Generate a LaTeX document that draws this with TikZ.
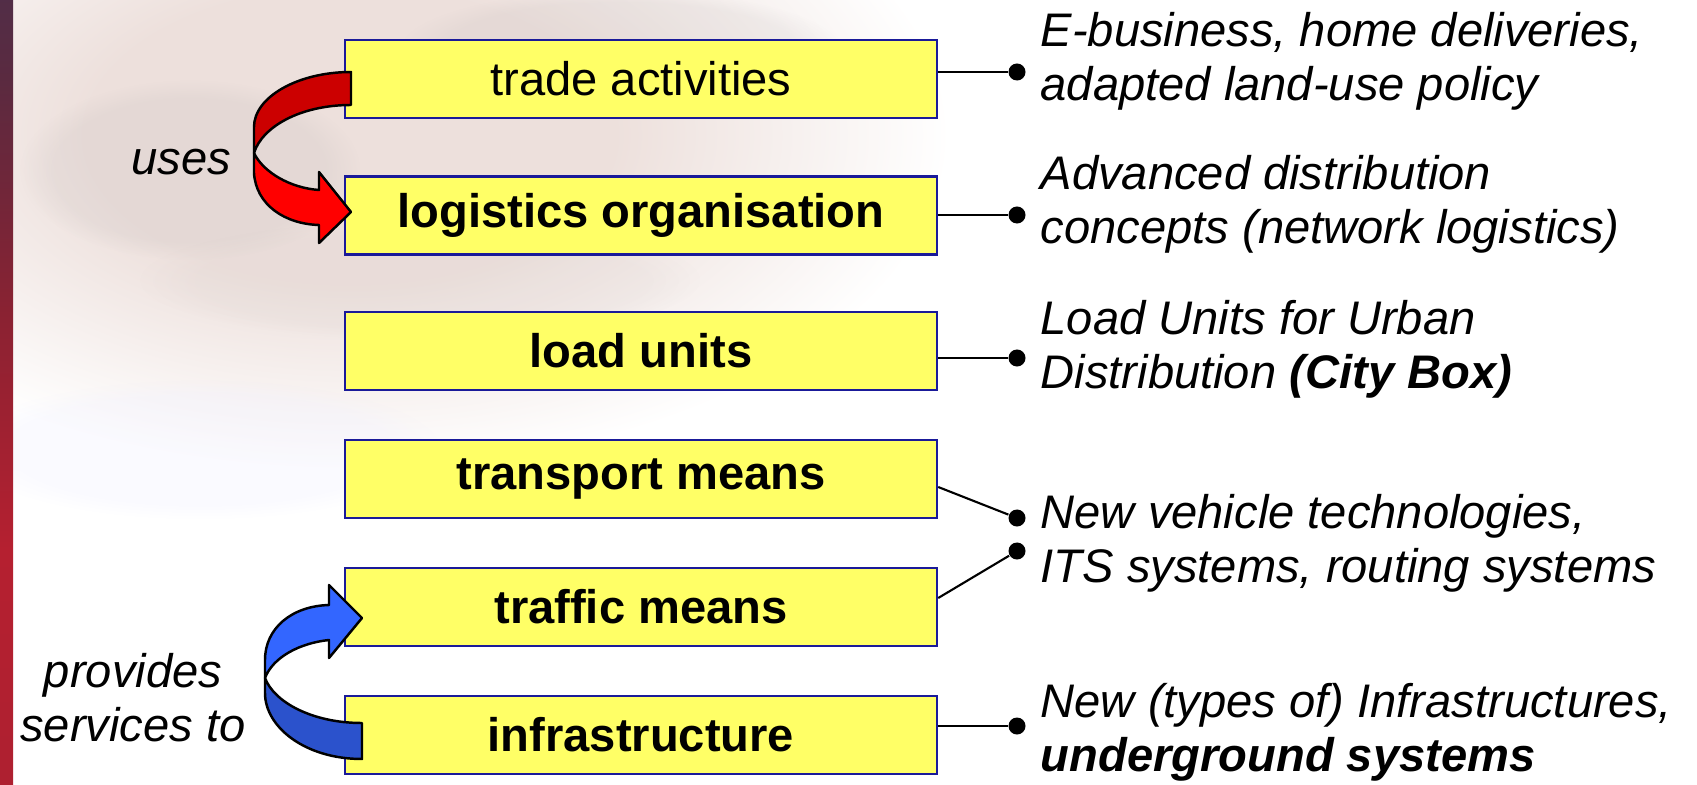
\documentclass[tikz,border=0pt]{standalone}
\usepackage{fontspec}
\setmainfont{Liberation Sans}
\usepackage{tikz}
\usetikzlibrary{fadings}
\definecolor{boxfill}{HTML}{FFFF66}
\definecolor{boxline}{HTML}{1A1A99}
\definecolor{redback}{HTML}{CC0000}
\definecolor{redfront}{HTML}{FF0000}
\definecolor{blueback}{HTML}{2B52CC}
\definecolor{bluefront}{HTML}{3366FF}
\definecolor{haze}{HTML}{EDE0DC}
\definecolor{smudge}{HTML}{B8B4B4}
\pgfdeclareradialshading{hazeshade}{\pgfpoint{0bp}{0bp}}{color(0bp)=(haze); color(11bp)=(haze); color(25bp)=(white); color(50bp)=(white)}
\pgfdeclareverticalshading{edgeshade}{100bp}{color(0bp)=(rgb,255:red,107;green,53;blue,64); color(12bp)=(rgb,255:red,168;green,32;blue,48); color(40bp)=(rgb,255:red,181;green,32;blue,48); color(55bp)=(rgb,255:red,138;green,34;blue,50); color(70bp)=(rgb,255:red,90;green,42;blue,64); color(88bp)=(rgb,255:red,62;green,54;blue,88); color(100bp)=(rgb,255:red,58;green,58;blue,96)}
\tikzset{
  box/.style={draw=boxline, fill=boxfill, line width=0.6pt, minimum width=5.92cm,
    minimum height=0.78cm, inner sep=0pt, font=\fontsize{13.4}{15}\selectfont},
  boldbox/.style={box, font=\fontsize{13.4}{15}\selectfont\bfseries},
  note/.style={anchor=west, align=left, inner sep=0pt, font=\fontsize{13.4}{15.4}\selectfont\itshape},
  bullet/.style={circle, fill=black, minimum size=0.17cm, inner sep=0pt},
  link/.style={line width=0.6pt},
  ribbon/.style={draw=black, line width=0.7pt, line join=round},
  blur/.style={opacity=#1, path fading=circle with fuzzy edge 20 percent}
}

\begin{document}
\begin{tikzpicture}[x=0.01cm, y=-0.01cm]
    \useasboundingbox (0,0) rectangle (1697,785);

    % Backdrop
    \begin{scope}
    \clip (0,0) rectangle (1697,785);
    \shade[shading=hazeshade] (-250,-200) rectangle (950,470);
    \fill[smudge, blur=.16] (190,170) ellipse [x radius=1.7cm, y radius=0.9cm];
    \fill[smudge, blur=.14] (620,50) ellipse [x radius=2.2cm, y radius=0.6cm];
    \fill[smudge!60!haze, blur=.12] (420,280) ellipse [x radius=2.8cm, y radius=0.6cm];
    \fill[blue!6, blur=.3] (200,450) ellipse [x radius=2.4cm, y radius=0.7cm];
    \end{scope}
    \shade[shading=edgeshade] (0,0) rectangle (13,785);

    % Levels
    \node[box] (trade) at (641,79) {trade activities};
    \node[boldbox] (logistics) at (641,215.5) {logistics organisation};
    \node[boldbox] (loadunits) at (641,351) {load units};
    \node[boldbox] (transport) at (641,479) {transport means};
    \node[boldbox] (traffic) at (641,607) {traffic means};
    \node[boldbox] (infra) at (641,735) {infrastructure};

    % Bullets and notes
    \node[bullet] (d1) at (1017,72) {};
    \node[bullet] (d2) at (1017,215) {};
    \node[bullet] (d3) at (1017,358) {};
    \node[bullet] (d4) at (1017,518) {};
    \node[bullet] (d5) at (1017,551) {};
    \node[bullet] (d6) at (1017,726) {};
    \draw[link] (trade.east |- d1) -- (d1);
    \draw[link] (logistics.east |- d2) -- (d2);
    \draw[link] (loadunits.east |- d3) -- (d3);
    \draw[link] ([yshift=-0.08cm]transport.east) -- (d4);
    \draw[link] ([yshift=0.09cm]traffic.east) -- (d5);
    \draw[link] (infra.east |- d6) -- (d6);

    \node[note] (n1) at (1040,61.5) {E-business, home deliveries,\\adapted land-use policy};
    \node[note] (n2) at (1040,204.5) {Advanced distribution\\concepts (network logistics)};
    \node[note] (n3) at (1040,349.5) {Load Units for Urban\\Distribution \textbf{(City Box)}};
    \node[note] (n4) at (1040,543.5) {New vehicle technologies,\\ITS systems, routing systems};
    \node[note] (n5) at (1040,732.5) {New (types of) Infrastructures,\\\textbf{underground systems}};

    % Red curl: uses
    \filldraw[ribbon, fill=redback] (351,72) .. controls (298,72) and (254,97) .. (254,127)
      -- (254,153) .. controls (262,127) and (300,105) .. (351,105) -- cycle;
    \filldraw[ribbon, fill=redfront] (254,153) -- (254,173) .. controls (256,205) and (285,224) .. (319,225)
      -- (319,243) -- (351,212) -- (319,172) -- (319,190) .. controls (290,188) and (263,172) .. (254,153) -- cycle;
    \node[note, anchor=east] (uses) at (232,162.5) {uses};

    % Blue curl: provides services to
    \filldraw[ribbon, fill=blueback] (362,759) .. controls (305,759) and (265,727) .. (265,693)
      -- (265,678) .. controls (274,702) and (312,723) .. (362,723) -- cycle;
    \filldraw[ribbon, fill=bluefront] (265,678) -- (265,660) .. controls (265,628) and (292,606) .. (329,605)
      -- (329,585) -- (362,618) -- (329,658) -- (329,640) .. controls (300,643) and (273,657) .. (265,678) -- cycle;
    \node[note, anchor=center, align=center] (provides) at (133,697.5) {provides\\services to};
\end{tikzpicture}
\end{document}
